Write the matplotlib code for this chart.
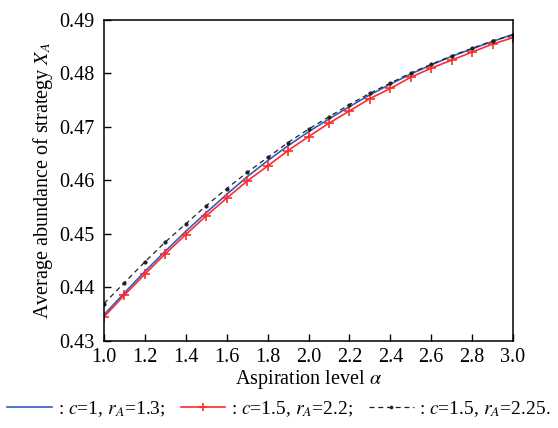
import numpy as np
import matplotlib
matplotlib.use("Agg")
import matplotlib.pyplot as plt

plt.rcParams['font.family'] = ['Liberation Serif', 'DejaVu Serif']
plt.rcParams['mathtext.fontset'] = 'stix'

# aspiration level
alpha = [1.0, 1.1, 1.2, 1.3, 1.4, 1.5, 1.6, 1.7, 1.8, 1.9, 2.0,
         2.1, 2.2, 2.3, 2.4, 2.5, 2.6, 2.7, 2.8, 2.9, 3.0]

# c=1, r_A=1.3
x_blue = [0.4349, 0.4390, 0.4430, 0.4468, 0.4505, 0.4540, 0.4574, 0.4607,
          0.4637, 0.4665, 0.4691, 0.4715, 0.4738, 0.4760, 0.4780, 0.4799,
          0.4816, 0.4832, 0.4846, 0.4860, 0.4873]
# c=1.5, r_A=2.2
x_red = [0.4345, 0.4386, 0.4425, 0.4463, 0.4499, 0.4534, 0.4567, 0.4599,
         0.4627, 0.4656, 0.4682, 0.4707, 0.4730, 0.4753, 0.4772, 0.4793,
         0.4810, 0.4825, 0.4840, 0.4855, 0.4867]
# c=1.5, r_A=2.25
x_black = [0.4370, 0.4409, 0.4448, 0.4485, 0.4519, 0.4553, 0.4585, 0.4615,
           0.4643, 0.4671, 0.4696, 0.4719, 0.4742, 0.4763, 0.4782, 0.4801,
           0.4817, 0.4833, 0.4847, 0.4861, 0.4872]

fig = plt.figure(figsize=(5.58, 4.28), dpi=100)
ax = fig.add_axes([0.1864, 0.2033, 0.733, 0.750])

l1, = ax.plot(alpha, x_blue, color='#2f5fbf', lw=1.2,
              label=r': $c$=1, $r_A$=1.3;')
l2, = ax.plot(alpha, x_red, color='#ff2a2a', lw=1.2, marker='+', ms=7,
              mew=1.2, label=r': $c$=1.5, $r_A$=2.2;')
l3, = ax.plot(alpha, x_black, color='#222222', lw=0.9, ls=(0, (4, 3)),
              marker='o', ms=2, label=r': $c$=1.5, $r_A$=2.25.')

ax.set_xlim(1.0, 3.0)
ax.set_ylim(0.43, 0.49)
ax.set_xticks(np.arange(1.0, 3.01, 0.2))
ax.set_yticks(np.arange(0.43, 0.4901, 0.01))
ax.set_xticklabels([f'{v:.1f}' for v in np.arange(1.0, 3.01, 0.2)])
ax.set_yticklabels([f'{v:.2f}' for v in np.arange(0.43, 0.4901, 0.01)])
ax.tick_params(direction='in', length=5, labelsize=14.5, width=1)
ax.tick_params(axis='y', pad=7)
ax.tick_params(axis='x', pad=5)
for s in ax.spines.values():
    s.set_linewidth(1.1)

ax.set_xlabel(r'Aspiration level $\alpha$', fontsize=14.5, labelpad=1)
ax.set_ylabel(r'Average abundance of strategy $X_A$', fontsize=14.5, labelpad=3)

fig.legend(handles=[l1, l2, l3], loc='lower center', bbox_to_anchor=(0.5, -0.02),
           ncol=3, frameon=False, fontsize=14, handlelength=2.3,
           handletextpad=0.3, columnspacing=0.8, markerscale=0.8)

fig.savefig('out.png', dpi=100)
